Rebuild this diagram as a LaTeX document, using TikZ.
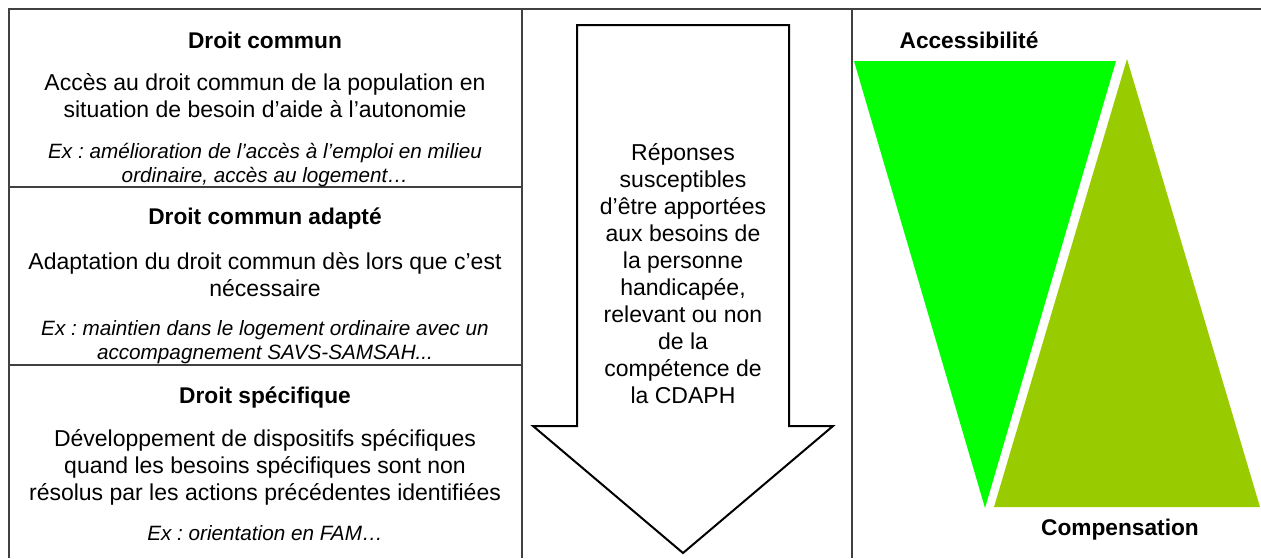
\documentclass[tikz,border=0pt]{standalone}
\usepackage{fontspec}
\setmainfont{Liberation Sans}
\frenchspacing
\definecolor{vertvif}{HTML}{00FF00}
\definecolor{vertolive}{HTML}{99CC00}

\begin{document}
\begin{tikzpicture}[x=1pt,y=-1pt,
    trait/.style={line width=1.3pt,black!75},
    titre/.style={font=\fontsize{22.7}{27}\selectfont\bfseries,align=center,inner sep=0pt},
    corps/.style={font=\fontsize{23}{27}\selectfont,align=center,inner sep=0pt},
    exemple/.style={font=\fontsize{20.7}{24}\selectfont\itshape,align=center,inner sep=0pt}]
      \useasboundingbox (0,0) rectangle (1261,558);
      % cadre du tableau
      \draw[trait] (9,558) -- (9,9) -- (1261,9);
      \draw[trait] (522,9) -- (522,558);
      \draw[trait] (852,9) -- (852,558);
      \draw[trait] (9,187) -- (522,187);
      \draw[trait] (9,365) -- (522,365);
      % colonne de gauche
      \node[titre] (dcommun) at (265,40) {Droit commun};
      \node[corps] (dcommuntxt) at (265,95.5) {Accès au droit commun de la population en\\situation de besoin d’aide à l’autonomie};
      \node[exemple] (dcommunex) at (265,165) {Ex : amélioration de l’accès à l’emploi en milieu\\ordinaire, accès au logement…};
      \node[titre] (dadapte) at (265,219) {Droit commun adapté};
      \node[corps] (dadaptetxt) at (265,274.5) {Adaptation du droit commun dès lors que c’est\\nécessaire};
      \node[exemple] (dadapteex) at (265,342) {Ex : maintien dans le logement ordinaire avec un\\accompagnement SAVS-SAMSAH...};
      \node[titre] (dspec) at (265,398) {Droit spécifique};
      \node[corps] (dspectxt) at (265,467.5) {Développement de dispositifs spécifiques\\quand les besoins spécifiques sont non\\résolus par les actions précédentes identifiées};
      \node[exemple] (dspecex) at (265,533) {Ex : orientation en FAM…};
      % fleche centrale
      \draw[line width=2pt] (577,25) -- (789,25) -- (789,426) -- (833,426) -- (683,553)
        -- (533,426) -- (577,426) -- cycle;
      \node[corps] (reponses) at (683,274) {Réponses\\susceptibles\\d’être apportées\\aux besoins de\\la personne\\handicapée,\\relevant ou non\\de la\\compétence de\\la CDAPH};
      % triangles
      \fill[vertvif] (854,61) -- (1116,61) -- (985,508) -- cycle;
      \fill[vertolive] (1127,59) -- (1260,507) -- (994,507) -- cycle;
      \node[titre] (access) at (969,40) {Accessibilité};
      \node[titre] (compens) at (1120,530) {Compensation};
    \end{tikzpicture}
\end{document}
